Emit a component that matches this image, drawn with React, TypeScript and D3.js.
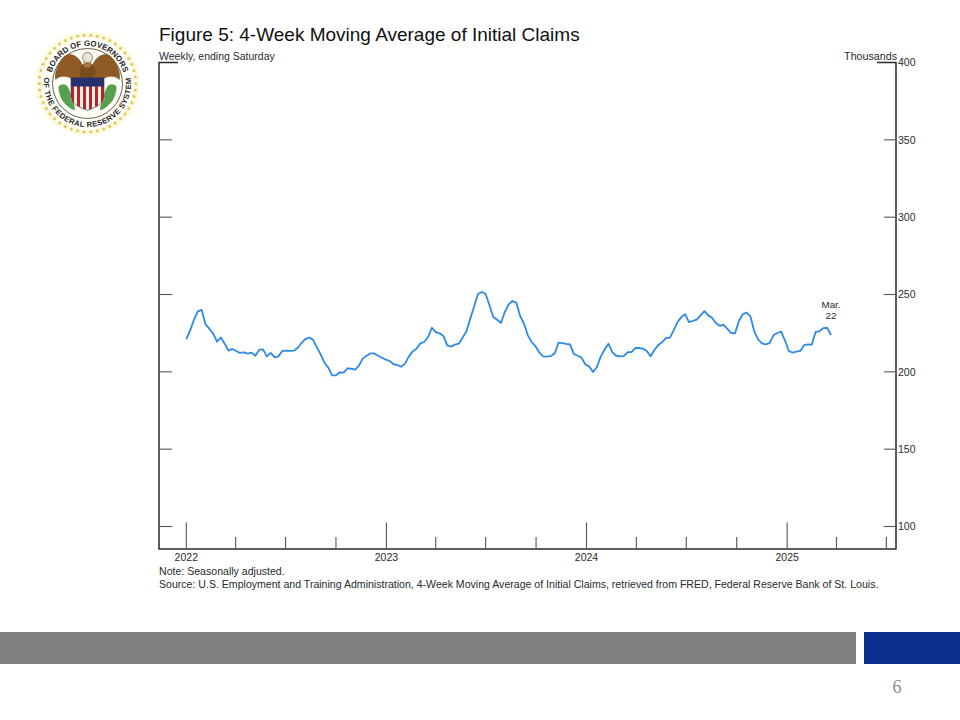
import React from "react";
import * as d3 from "d3";

const startDate = "2022-01-01";
const endDate = "2025-03-22";
const claims = [
  221.2,226.8,233.7,239.1,240.0,230.7,227.9,224.7,219.5,222.3,218.2,213.7,214.8,213.5,212.2,212.6,211.8,212.4,210.4,214.3,
  214.5,210.0,212.2,209.4,210.0,213.5,213.7,213.5,213.7,215.4,218.6,221.2,222.1,220.8,216.0,211.3,205.9,202.7,197.7,197.7,
  199.7,199.5,202.3,202.0,201.4,204.0,208.7,210.4,211.9,211.9,210.4,209.1,207.9,207.0,204.9,204.4,203.3,205.3,210.0,213.2,
  215.0,218.4,219.3,222.5,228.5,225.7,224.9,223.2,217.1,216.3,217.6,218.2,222.1,226.2,234.4,242.3,250.3,251.6,250.3,243.0,
  235.4,233.7,231.6,238.7,243.6,245.8,244.7,236.1,231.1,223.6,219.3,216.5,212.4,210.0,209.8,210.2,211.9,218.9,218.6,218.0,
  217.8,211.5,210.4,209.1,204.8,203.5,199.9,203.1,210.0,214.3,218.2,212.8,210.4,210.0,210.2,212.8,212.8,215.4,215.4,215.0,
  213.5,210.0,214.3,217.3,219.1,221.9,221.9,226.8,232.2,235.4,237.2,232.2,232.9,233.7,236.5,239.3,236.5,235.0,231.6,229.8,
  230.3,227.7,225.1,224.9,232.9,237.2,238.3,235.9,226.2,221.0,218.4,217.8,218.6,223.6,225.1,226.0,220.4,213.5,212.4,213.0,
  213.5,217.3,217.8,217.6,225.8,226.2,228.3,228.5,223.8,
];
const yTicks = [100, 150, 200, 250, 300, 350, 400];
const yearLabels = ["2022", "2023", "2024", "2025"];
const title = "Figure 5: 4-Week Moving Average of Initial Claims";
const subtitle = "Weekly, ending Saturday";
const unitLabel = "Thousands";
const noteLines = [
  "Note: Seasonally adjusted.",
  "Source: U.S. Employment and Training Administration, 4-Week Moving Average of Initial Claims, retrieved from FRED, Federal Reserve Bank of St. Louis.",
];
const sealTop = "BOARD OF GOVERNORS";
const sealBottom = "OF THE FEDERAL RESERVE SYSTEM";
const shieldStripes = ["#b5262b", "#f4efe6", "#b5262b", "#f4efe6", "#b5262b", "#f4efe6", "#b5262b", "#f4efe6", "#b5262b", "#f4efe6", "#b5262b"];

const FONT = "'Liberation Sans', Arial, sans-serif";
const INK = "#2a2a2a";
const LEFT = 159, RIGHT = 896, TOP = 62.5, BOTTOM = 549;

const t0 = new Date(startDate + "T00:00:00Z");
const t1 = new Date(endDate + "T00:00:00Z");
const x = d3.scaleUtc().domain([t0, t1]).range([186.3, 831]);
const y = d3.scaleLinear().domain([100, 400]).range([526.5, 62.5]);
const dates = claims.map((_, i) => d3.utcWeek.offset(t0, i));
const line = d3.line<number>().x((_, i) => x(dates[i])).y((d) => y(d)).curve(d3.curveLinear);
const quarterTicks = d3.utcMonth.range(new Date("2022-01-01T00:00:00Z"), new Date("2025-10-01T00:00:00Z"), 3);

function Seal() {
  const dots = d3.range(46).map((i) => {
    const a = (i / 46) * 2 * Math.PI;
    return [48.3 * Math.cos(a), 48.3 * Math.sin(a)];
  });
  const polar = (r: number, deg: number) => {
    const a = (deg * Math.PI) / 180;
    return `${(r * Math.cos(a)).toFixed(2)} ${(r * Math.sin(a)).toFixed(2)}`;
  };
  const wing = "M -5 -18 C -9 -29, -20 -33, -26 -24 C -30 -17, -33 -11, -32 -4 C -27 -8, -22 -8, -16 -5 L -5 -5 Z";
  const branch = "M -29 3 C -29 13, -24 22, -13 27 C -12 23, -14 18, -17 16 C -16 12, -17 8, -20 3 C -22 0, -26 0, -29 3 Z";
  return (
    <g transform="translate(87.5 83.5)">
      <defs>
        <path id="sealTop" d={`M ${polar(37.5, 170)} A 37.5 37.5 0 1 1 ${polar(37.5, 10)}`} />
        <path id="sealBottom" d={`M ${polar(43.6, 192)} A 43.6 43.6 0 1 0 ${polar(43.6, -12)}`} />
        <clipPath id="shieldClip">
          <path d="M -16.5 -6 H 16.5 V 13 C 16.5 21, 7 24, 0 27 C -7 24, -16.5 21, -16.5 13 Z" />
        </clipPath>
      </defs>
      <circle r={52} fill="#fdf9dc" />
      {dots.map(([a, b], i) => (
        <circle key={i} cx={a} cy={b} r={1.5} fill="#dcc863" />
      ))}
      <circle r={46} fill="#fffef8" />
      <circle r={35} fill="#fffef8" stroke="#3a3a2a" strokeWidth={0.8} />
      <text fontFamily={FONT} fontSize={7.9} fontWeight={700} fill="#262626">
        <textPath href="#sealTop" startOffset="50%" textAnchor="middle">{sealTop}</textPath>
      </text>
      <text fontFamily={FONT} fontSize={7.6} fontWeight={700} fill="#262626" letterSpacing={0.4}>
        <textPath href="#sealBottom" startOffset="50%" textAnchor="middle">{sealBottom}</textPath>
      </text>
      <path d={branch} fill="#57a04d" />
      <path d={branch} fill="#57a04d" transform="scale(-1 1)" />
      <path d={wing} fill="#8f5a24" stroke="#5f3a16" strokeWidth={0.4} />
      <path d={wing} fill="#8f5a24" stroke="#5f3a16" strokeWidth={0.4} transform="scale(-1 1)" />
      <ellipse cx={0} cy={-12} rx={8} ry={9} fill="#7b4a1d" />
      <circle cx={0} cy={-26} r={5} fill="#e9e4d6" stroke="#6b5a3a" strokeWidth={0.7} />
      <path d="M -4 -22 Q 0 -18 4 -22 L 3 -16 L -3 -16 Z" fill="#a87a3e" />
      <g clipPath="url(#shieldClip)">
        {shieldStripes.map((c, i) => (
          <rect key={i} x={-16.5 + (i * 33) / shieldStripes.length} y={-6} width={33 / shieldStripes.length + 0.2} height={34} fill={c} />
        ))}
        <rect x={-16.5} y={-6} width={33} height={9} fill="#27306e" />
      </g>
      <path d="M -16.5 -6 H 16.5 V 13 C 16.5 21, 7 24, 0 27 C -7 24, -16.5 21, -16.5 13 Z" fill="none" stroke="#3a3a3a" strokeWidth={0.6} />
    </g>
  );
}

export default function App() {
  return (
    <svg width={960} height={720} viewBox="0 0 960 720" style={{ position: "fixed", left: 0, top: 0, background: "#fff" }}>
      <Seal />
      <text x={159} y={41} fontFamily={FONT} fontSize={19} fill="#111">{title}</text>
      <text x={159} y={60} fontFamily={FONT} fontSize={10.5} fill={INK}>{subtitle}</text>
      <text x={897} y={60} fontFamily={FONT} fontSize={10.7} fill={INK} textAnchor="end">{unitLabel}</text>

      <path d={`M ${LEFT + 19} ${TOP} H ${LEFT} V ${BOTTOM} H ${RIGHT} V ${TOP} H ${RIGHT - 19}`} fill="none" stroke={INK} strokeWidth={1.5} />
      {yTicks.map((t) => (
        <g key={t}>
          {t < 400 && <line x1={LEFT} x2={LEFT + 13} y1={y(t)} y2={y(t)} stroke="#555" strokeWidth={1.1} />}
          {t < 400 && <line x1={RIGHT - 12} x2={RIGHT} y1={y(t)} y2={y(t)} stroke="#555" strokeWidth={1.1} />}
          <text x={898} y={y(t) + 3.8} fontFamily={FONT} fontSize={10.5} fill={INK}>{t}</text>
        </g>
      ))}
      {quarterTicks.map((d, i) => {
        const major = d.getUTCMonth() === 0;
        return <line key={i} x1={x(d)} x2={x(d)} y1={BOTTOM} y2={major ? 522.5 : 537} stroke="#555" strokeWidth={1.1} />;
      })}
      {yearLabels.map((l) => (
        <text key={l} x={x(new Date(`${l}-01-01T00:00:00Z`))} y={561} fontFamily={FONT} fontSize={10.5} fill={INK} textAnchor="middle">{l}</text>
      ))}
      <path d={line(claims) ?? ""} fill="none" stroke="#2e8ae6" strokeWidth={1.8} strokeLinejoin="round" />
      <text x={831} y={307.5} fontFamily={FONT} fontSize={9.8} fill={INK} textAnchor="middle">Mar.</text>
      <text x={831} y={319.3} fontFamily={FONT} fontSize={9.8} fill={INK} textAnchor="middle">22</text>
      {noteLines.map((n, i) => (
        <text key={i} x={159} y={575 + i * 12.5} fontFamily={FONT} fontSize={10.57} fill={INK}>{n}</text>
      ))}
      <rect x={0} y={632} width={856} height={32} fill="#7f7f7f" />
      <rect x={864} y={632} width={96} height={32} fill="#0a2f8c" />
      <text x={897} y={693} fontFamily="'Liberation Serif', serif" fontSize={18} fill="#8a8a8a" textAnchor="middle">6</text>
    </svg>
  );
}
